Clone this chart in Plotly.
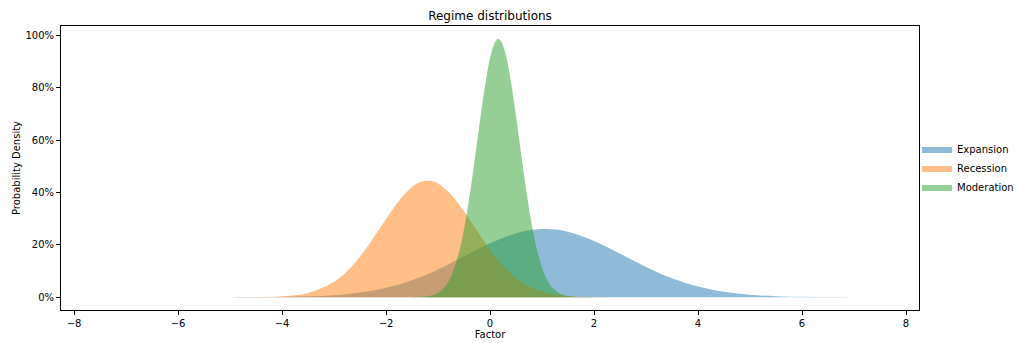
import plotly.graph_objects as go

# Expansion regime density
exp_x = [-7.5, -6.5, -5.5, -5.0, -4.5, -4.0, -3.5, -3.0, -2.5, -2.0, -1.5, -1.0, -0.5, 0.0,
         0.5, 0.75, 1.0, 1.25, 1.5, 2.0, 2.5, 3.0, 3.5, 4.0, 4.5, 5.0, 5.5, 6.0, 6.5, 7.0, 7.5]
exp_y = [0.0, 0.000001, 0.000027, 0.000105, 0.000362, 0.00112, 0.00313, 0.00785, 0.0177, 0.0358,
         0.0650, 0.1063, 0.1561, 0.2061, 0.2445, 0.2558, 0.2607, 0.2586, 0.2498, 0.2151, 0.1664,
         0.1158, 0.0724, 0.0407, 0.0205, 0.00931, 0.0038, 0.00139, 0.000458, 0.000136, 0.000036]

# Recession regime density
rec_x = [-7.5, -6.0, -5.0, -4.5, -4.0, -3.5, -3.0, -2.75, -2.5, -2.25, -2.0, -1.75, -1.5, -1.375,
         -1.25, -1.125, -1.0, -0.75, -0.5, -0.25, 0.0, 0.25, 0.5, 0.75, 1.0, 1.5, 2.0, 2.5, 3.0, 7.5]
rec_y = [0.0, 0.0, 0.000054, 0.000498, 0.00334, 0.0164, 0.0590, 0.0995, 0.1552, 0.2240, 0.2989,
         0.3690, 0.4214, 0.4373, 0.4450, 0.4441, 0.4347, 0.3928, 0.3283, 0.2537, 0.1814, 0.1200,
         0.0734, 0.0415, 0.0217, 0.00471, 0.000747, 0.000087, 0.000007, 0.0]

# Moderation regime density
mod_x = [-7.5, -2.0, -1.5, -1.25, -1.0, -0.8, -0.6, -0.5, -0.4, -0.3, -0.2, -0.1, 0.0, 0.1, 0.15,
         0.2, 0.3, 0.4, 0.5, 0.6, 0.7, 0.8, 0.9, 1.0, 1.1, 1.2, 1.4, 1.6, 1.8, 2.2, 7.5]
mod_y = [0.0, 0.0, 0.000213, 0.00224, 0.0160, 0.0587, 0.1684, 0.2600, 0.3779, 0.5165, 0.6639,
         0.8028, 0.9130, 0.9767, 0.9872, 0.9827, 0.9300, 0.8277, 0.6930, 0.5457, 0.4042,
         0.2815, 0.1845, 0.1138, 0.0659, 0.0360, 0.00889, 0.00172, 0.000261, 0.0, 0.0]

names = ["Expansion", "Recession", "Moderation"]
colors = ["rgba(31,119,180,0.5)", "rgba(255,127,14,0.5)", "rgba(44,160,44,0.5)"]
x_ticks = [-8, -6, -4, -2, 0, 2, 4, 6, 8]
y_ticks = [0, 0.2, 0.4, 0.6, 0.8, 1.0]

fig = go.Figure()
for name, xs, ys, c in zip(names, [exp_x, rec_x, mod_x], [exp_y, rec_y, mod_y], colors):
    fig.add_trace(go.Scatter(
        x=xs, y=ys, name=name, mode="lines", fill="tozeroy",
        fillcolor=c, line=dict(width=0, color=c, shape="spline", smoothing=1.0),
    ))

font = dict(family="DejaVu Sans", size=10, color="black")
fig.update_layout(
    width=1016, height=343,
    margin=dict(l=61, r=97, t=26, b=33, autoexpand=False),
    paper_bgcolor="white", plot_bgcolor="white",
    font=font,
    title=dict(text="Regime distributions", x=(61 + 919) / 2 / 1016, xanchor="center",
               y=1 - 16 / 343, yanchor="middle", font=dict(family="DejaVu Sans", size=12, color="black")),
    legend=dict(x=0.9977, xanchor="left", y=0.5, yanchor="middle", font=font,
                bgcolor="rgba(0,0,0,0)", tracegroupgap=0, itemwidth=30),
    showlegend=True,
)
fig.update_xaxes(
    range=[-8.25, 8.25], tickvals=x_ticks, showgrid=False, zeroline=False,
    showline=True, linecolor="black", linewidth=1, mirror=True,
    ticks="outside", ticklen=4, tickcolor="black",
    title=dict(text="Factor", standoff=2, font=font),
)
fig.update_yaxes(
    range=[-0.049, 1.037], tickvals=y_ticks, tickformat=".0%", showgrid=False, zeroline=False,
    showline=True, linecolor="black", linewidth=1, mirror=True,
    ticks="outside", ticklen=4, tickcolor="black",
    title=dict(text="Probability Density", standoff=2, font=font),
)

fig.write_html("out.html")
